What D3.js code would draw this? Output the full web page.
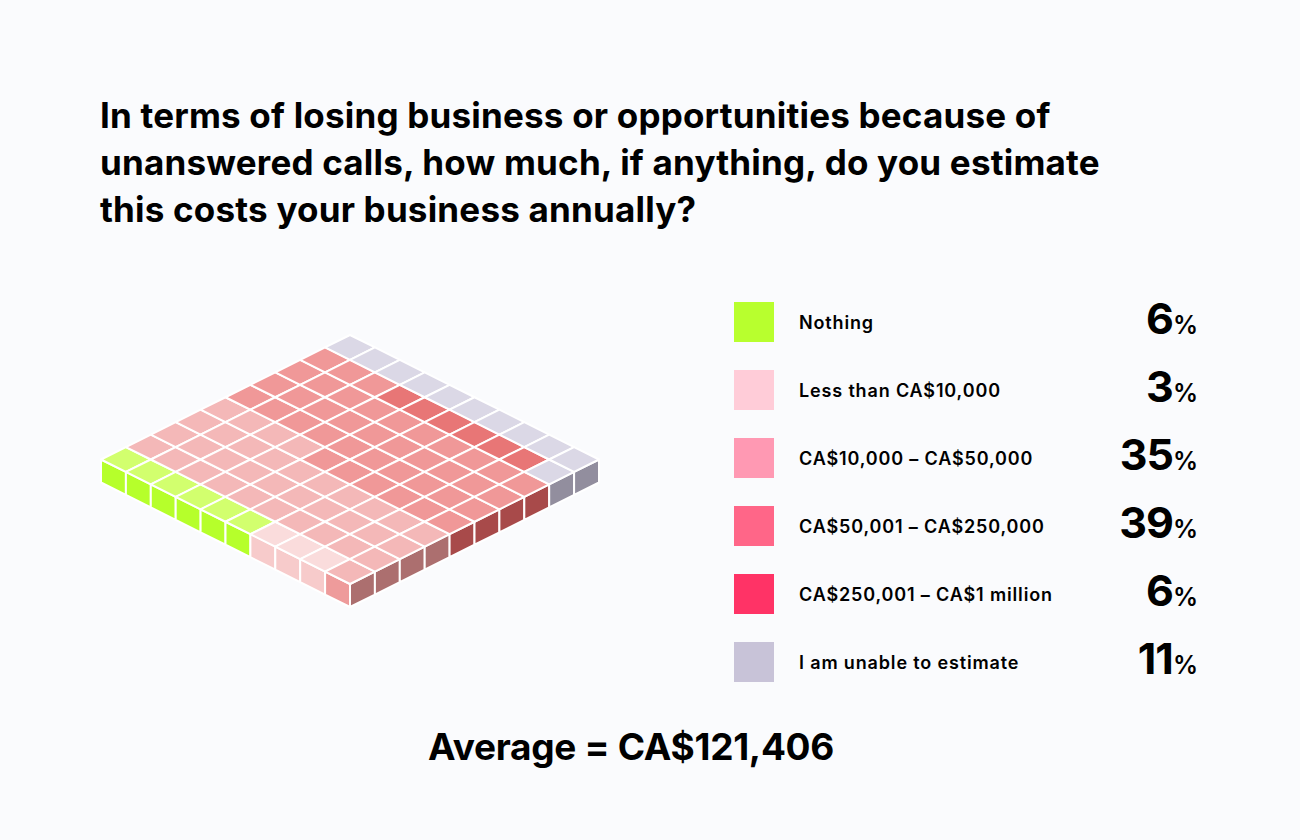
<!DOCTYPE html>
<html>
<head>
<meta charset="utf-8">
<script src="https://cdn.jsdelivr.net/npm/d3@7"></script>
<style>
  html, body { margin: 0; padding: 0; background: #fafbfd; }
  svg { display: block; }
  text { font-family: Inter, "Noto Sans", sans-serif; fill: #000; }
</style>
</head>
<body>
<svg id="chart" width="1300" height="840"></svg>
<script>
// ---- data ----
const titleLines = [
  "In terms of losing business or opportunities because of",
  "unanswered calls, how much, if anything, do you estimate",
  "this costs your business annually?"
];
const categories = [
  "Nothing",
  "Less than CA$10,000",
  "CA$10,000 – CA$50,000",
  "CA$50,001 – CA$250,000",
  "CA$250,001 – CA$1 million",
  "I am unable to estimate"
];
const values = [6, 3, 35, 39, 6, 11];
const averageLabel = "Average = CA$121,406";

// ---- palette (styles) ----
const legendColors = ["#b8ff2e", "#ffccd8", "#ff99b3", "#ff6688", "#ff3366", "#c8c3d8"];
const topColors    = ["#d2ff6e", "#fadcdc", "#f4b8b8", "#f09898", "#e87676", "#dbd8e6"];
const leftColors   = ["#b6ff2b", "#f7cbcb", "#ee9b9b", "#e98484", "#d86464", "#bcb8c8"];
const rightColors  = ["#7fb21e", "#b89494", "#ac6f6f", "#a84a4a", "#9a3838", "#928e9e"];

const svg = d3.select("#chart");
const W = 1300, H = 840;
svg.append("rect").attr("width", W).attr("height", H).attr("fill", "#fafbfd");

// ---- title ----
const title = svg.append("text")
  .attr("x", 100).attr("y", 128)
  .style("font-size", "35px").style("font-weight", 700)
  .style("letter-spacing", "0.2px");
title.selectAll("tspan").data(titleLines).join("tspan")
  .attr("x", 100).attr("dy", (d, i) => i === 0 ? 0 : 47)
  .text(d => d);

// ---- waffle assignment ----
const N = 10;
const cumulative = d3.cumsum(values);
const cells = d3.range(N * N).map(k => {
  const cat = d3.bisectRight(Array.from(cumulative), k);
  return { k, r: N - 1 - Math.floor(k / N), c: k % N, cat };
});

// isometric scales: u = c - r, v = c + r
const xs = d3.scaleLinear().domain([-N, N]).range([101, 599]);
const ys = d3.scaleLinear().domain([0, 2 * N]).range([335, 584]);
const depth = 23;

function P(c, r) { return [xs(c - r), ys(c + r)]; }
const line = d3.line();

const g = svg.append("g");

// left side faces (front-left row r = N-1)
g.selectAll("path.left").data(cells.filter(d => d.r === N - 1)).join("path")
  .attr("class", "left")
  .attr("d", d => {
    const a = P(d.c, d.r + 1), b = P(d.c + 1, d.r + 1);
    return line([a, b, [b[0], b[1] + depth], [a[0], a[1] + depth]]) + "Z";
  })
  .attr("fill", d => leftColors[d.cat])
  .attr("stroke", "#fff").attr("stroke-width", 2).attr("stroke-linejoin", "round");

// right side faces (front-right column c = N-1)
g.selectAll("path.right").data(cells.filter(d => d.c === N - 1)).join("path")
  .attr("class", "right")
  .attr("d", d => {
    const a = P(d.c + 1, d.r + 1), b = P(d.c + 1, d.r);
    return line([a, b, [b[0], b[1] + depth], [a[0], a[1] + depth]]) + "Z";
  })
  .attr("fill", d => rightColors[d.cat])
  .attr("stroke", "#fff").attr("stroke-width", 2).attr("stroke-linejoin", "round");

// top faces
g.selectAll("path.top").data(cells).join("path")
  .attr("class", "top")
  .attr("d", d => line([P(d.c, d.r), P(d.c + 1, d.r), P(d.c + 1, d.r + 1), P(d.c, d.r + 1)]) + "Z")
  .attr("fill", d => topColors[d.cat])
  .attr("stroke", "#fff").attr("stroke-width", 2).attr("stroke-linejoin", "round");

// ---- legend ----
const ly = d3.scaleBand().domain(categories).range([302, 302 + 68 * 6]).paddingInner(0);
const leg = svg.append("g");
const rows = leg.selectAll("g").data(categories).join("g")
  .attr("transform", d => `translate(0,${ly(d)})`);
rows.append("rect")
  .attr("x", 734).attr("y", 0).attr("width", 40).attr("height", 40)
  .attr("fill", (d, i) => legendColors[i]);
rows.append("text")
  .attr("x", 799).attr("y", 27)
  .style("font-size", "18px").style("font-weight", 600).style("letter-spacing", "0.85px")
  .text(d => d);
const pct = rows.append("text")
  .attr("x", 1198).attr("y", 32)
  .attr("text-anchor", "end");
pct.append("tspan")
  .style("font-size", "43px").style("font-weight", 700).style("letter-spacing", "-1px")
  .text((d, i) => values[i]);
pct.append("tspan")
  .style("font-size", "25px").style("font-weight", 600)
  .text("%");

// ---- average ----
svg.append("text")
  .attr("x", 631).attr("y", 760).attr("text-anchor", "middle")
  .style("font-size", "37px").style("font-weight", 700).style("letter-spacing", "-0.3px")
  .text(averageLabel);
</script>
</body>
</html>
